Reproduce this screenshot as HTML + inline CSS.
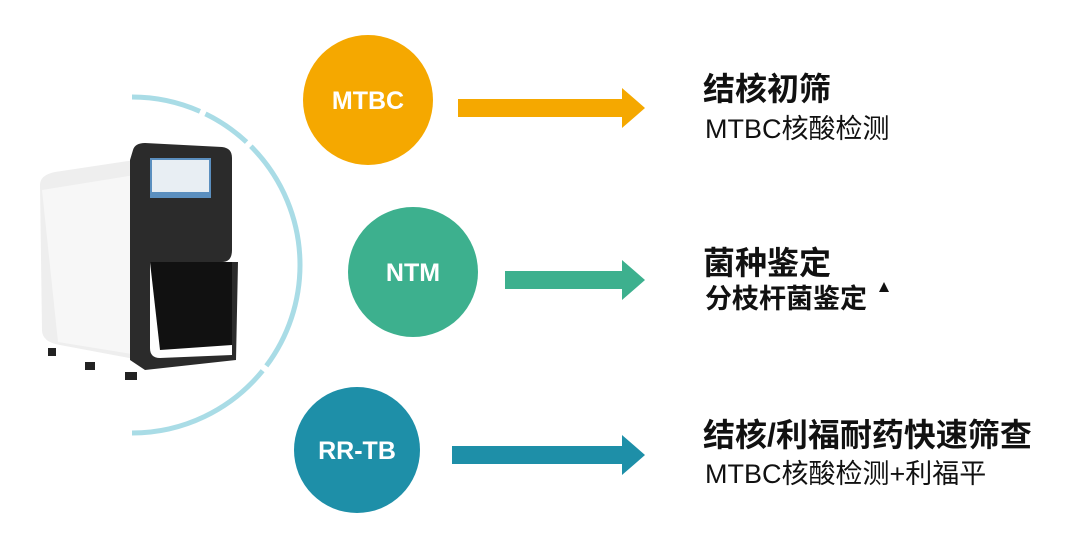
<!DOCTYPE html>
<html><head><meta charset="utf-8"><style>
body{margin:0;width:1080px;height:543px;background:#fff;overflow:hidden;position:relative;font-family:"Liberation Sans","Noto Sans CJK SC",sans-serif}
.t{position:absolute;color:#111;white-space:nowrap;line-height:1}
.b{font-weight:bold;font-size:32px}
.r{font-size:27px}
</style></head><body>
<svg width="1080" height="543" style="position:absolute;left:0;top:0">
<path d="M132 97 A168 168 0 0 1 132 433" fill="none" stroke="#a9dce6" stroke-width="5" stroke-dasharray="70 6 50 6 240 6 160 0"/>
<path d="M40 185 Q40 175 55 172 L135 160 L140 360 L60 345 Q42 342 42 330 Z" fill="#eeeeee"/>
<path d="M42 190 L135 175 L138 355 L58 342 Z" fill="#f7f7f7"/>
<path d="M133 150 Q135 143 145 143 L222 147 Q232 148 232 158 L232 250 Q232 262 222 262 L150 262 L150 348 Q150 358 160 358 L232 355 L232 262 L238 262 L236 360 L145 370 L130 360 L130 160 Z" fill="#2b2b2b"/>
<path d="M150 262 L232 262 L232 345 L160 350 Z" fill="#111"/>
<rect x="150" y="158" width="61" height="40" fill="#5b8fbf"/>
<rect x="152" y="160" width="57" height="32" fill="#e8eef3"/>
<rect x="48" y="348" width="8" height="8" fill="#222"/><rect x="85" y="362" width="10" height="8" fill="#222"/><rect x="125" y="372" width="12" height="8" fill="#222"/>
<circle cx="368" cy="100" r="65" fill="#f5a800"/>
<circle cx="413" cy="272" r="65" fill="#3db08e"/>
<circle cx="357" cy="450" r="63" fill="#1e8fa8"/>
<polygon points="458,99 622,99 622,88 645,108 622,128 622,117 458,117" fill="#f5a800"/>
<polygon points="505,271 622,271 622,260 645,280 622,300 622,289 505,289" fill="#3db08e"/>
<polygon points="452,446 622,446 622,435 645,455 622,475 622,464 452,464" fill="#1e8fa8"/>
<text x="368" y="109" fill="#fff" font-size="25" font-weight="bold" text-anchor="middle" font-family="Liberation Sans">MTBC</text>
<text x="413" y="281" fill="#fff" font-size="25" font-weight="bold" text-anchor="middle" font-family="Liberation Sans">NTM</text>
<text x="357" y="459" fill="#fff" font-size="25" font-weight="bold" text-anchor="middle" font-family="Liberation Sans">RR-TB</text>
<polygon points="884,282 879,292 889,292" fill="#111"/>
</svg>
<div class="t b" style="left:703px;top:73px">结核初筛</div>
<div class="t r" style="left:705px;top:116px">MTBC核酸检测</div>
<div class="t b" style="left:703px;top:247px">菌种鉴定</div>
<div class="t" style="left:705px;top:286px;font-size:27px;font-weight:bold">分枝杆菌鉴定</div>
<div class="t b" style="left:703px;top:419px">结核/利福耐药快速筛查</div>
<div class="t r" style="left:705px;top:461px">MTBC核酸检测+利福平</div>
</body></html>
